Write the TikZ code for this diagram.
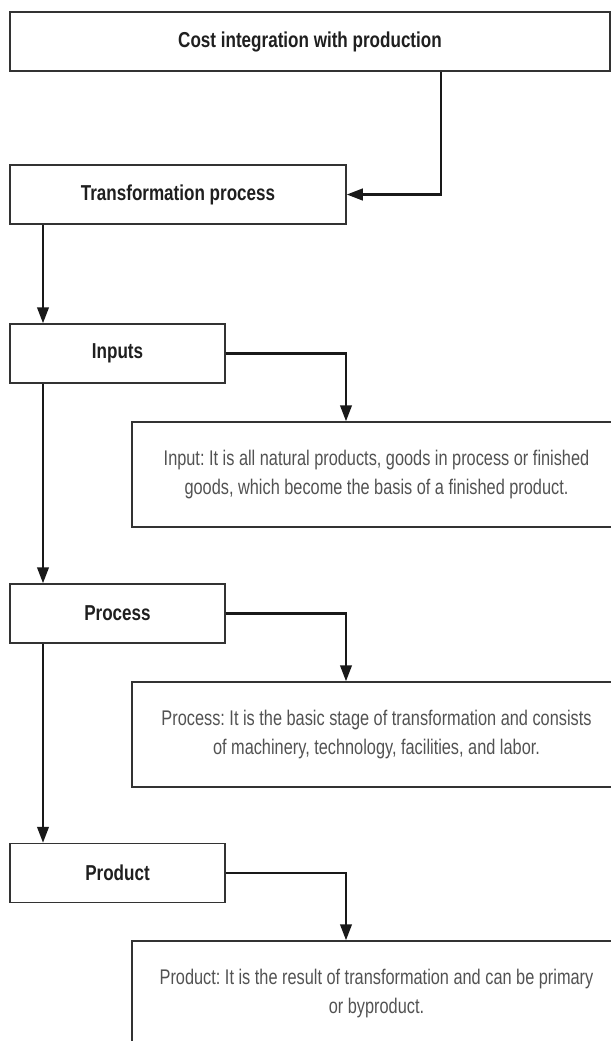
\documentclass[tikz,border=0pt]{standalone}
\usepackage{fontspec}
\newfontfamily\headfont{Liberation Sans}[FakeStretch=0.79]
\newfontfamily\descfont{Liberation Sans}[FakeStretch=0.77]
\usetikzlibrary{arrows.meta, positioning}
\frenchspacing

\begin{document}
\begin{tikzpicture}[x=0.5pt, y=-0.5pt, >={Triangle[length=8pt, width=5.8pt]},
    head/.style={draw=black!80, line width=0.75pt, minimum height=29.5pt, inner sep=0pt, text=black!88, font=\headfont\bfseries\fontsize{10.8}{12}\selectfont},
    desc/.style={draw=black!80, line width=0.75pt, minimum width=244.5pt, minimum height=52.5pt, inner sep=0pt, align=center, text=black!68, font=\descfont\fontsize{10.6}{14.5}\selectfont},
    arr/.style={->, draw=black!90, line width=1.1pt}]
    \clip (0,0) rectangle (611,1041);

    \node [head, minimum width=300pt] (costint) at (310,41.5) {Cost integration with production};
    \node [head, minimum width=168pt] (transf) at (178,194.5) {Transformation process};
    \node [head, minimum width=107.5pt] (inputs) at (117.5,353.5) {Inputs};
    \node [head, minimum width=107.5pt] (process) at (117.5,613.5) {Process};
    \node [head, minimum width=107.5pt] (product) at (117.5,873) {Product};

    \node [desc] (inputdesc) at (376.5,474.5) {Input: It is all natural products, goods in process or finished\\goods, which become the basis of a finished product.};
    \node [desc] (processdesc) at (376.5,734.5) {Process: It is the basic stage of transformation and consists\\of machinery, technology, facilities, and labor.};
    \node [desc] (productdesc) at (376.5,993.5) {Product: It is the result of transformation and can be primary\\or byproduct.};

    \coordinate (drop) at (441,0);
    \coordinate (lane) at (43,0);
    \coordinate (branch) at (346,0);

    \draw[arr] (costint.south -| drop) |- (transf.east);
    \draw[arr] (transf.south -| lane) -- (inputs.north -| lane);
    \draw[arr] (inputs.south -| lane) -- (process.north -| lane);
    \draw[arr] (process.south -| lane) -- (product.north -| lane);
    \draw[arr] (inputs.east) -| (inputdesc.north -| branch);
    \draw[arr] (process.east) -| (processdesc.north -| branch);
    \draw[arr] (product.east) -| (productdesc.north -| branch);
\end{tikzpicture}
\end{document}
